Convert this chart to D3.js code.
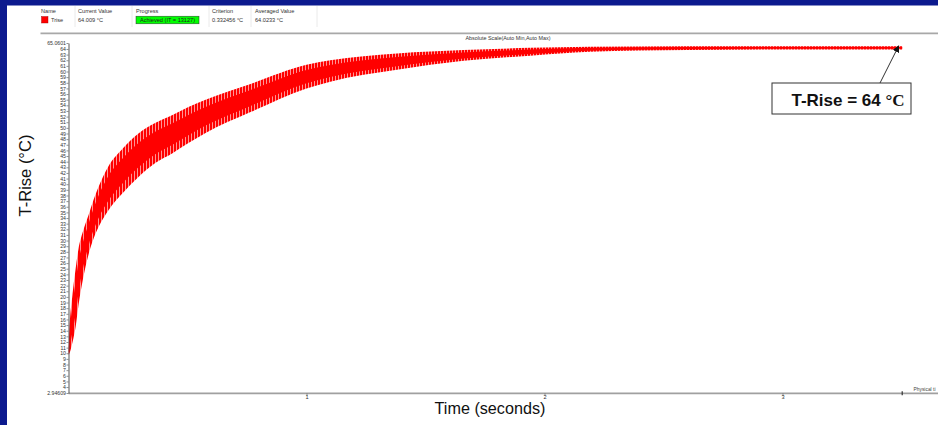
<!DOCTYPE html>
<html><head><meta charset="utf-8">
<script src="https://cdn.jsdelivr.net/npm/d3@7"></script>
<style>
html,body{margin:0;padding:0;background:#fff;overflow:hidden;}
svg{display:block;font-family:Arial,"Liberation Sans",sans-serif;}
</style></head><body>
<svg id="chart" width="938" height="425"></svg>
<script>
// ---- data ----
const timeSec = [0, 0.004, 0.017, 0.03, 0.042, 0.06, 0.084, 0.105, 0.126, 0.168, 0.227, 0.294, 0.366, 0.437, 0.504, 0.576, 0.765, 1.0, 1.1, 1.38, 1.66, 1.94, 2.19, 2.6, 3.0, 3.503];
const upperTrise = [10, 14, 20.5, 25, 28.5, 31.5, 34.5, 37.2, 39.5, 43.2, 46.3, 49.0, 50.9, 52.3, 53.7, 55, 57.8, 61.2, 62.0, 63.2, 63.8, 64.2, 64.4, 64.5, 64.5, 64.5];
const lowerTrise = [9.7, 10, 12, 14.7, 18.5, 23, 27.5, 30.3, 32.4, 35.4, 38.4, 41.3, 43.8, 45.5, 47.3, 49.1, 52.8, 57.0, 58.2, 60.3, 61.9, 62.8, 63.5, 63.8, 63.9, 63.9];
const yMin = 2.94609, yMax = 65.0601;
const yTickValues = [4,5,6,7,8,9,10,11,12,13,14,15,16,17,18,19,20,21,22,23,24,25,26,27,28,29,30,31,32,33,34,35,36,37,38,39,40,41,42,43,44,45,46,47,48,49,50,51,52,53,54,55,56,57,58,59,60,61,62,63,64];
const xTickValues = [1, 2, 3];
const xEnd = 3.503;
const headerLabels = ["Name", "Current Value", "Progress", "Criterion", "Averaged Value"];
const headerValues = ["Trise", "64.009 °C", "Achieved (IT = 13127)", "0.332456 °C", "64.0233 °C"];
const plotTitle = "Absolute Scale(Auto Min,Auto Max)";
const xEndLabel = "Physical ti";
const annotationText = "T-Rise = 64 ";
const annotationUnit = "°C";
const annotationValue = 64;

const svg = d3.select("#chart");

// background border
svg.append("rect").attr("x",0).attr("y",0).attr("width",938).attr("height",425).attr("fill","#fff");
svg.append("rect").attr("x",0).attr("y",0).attr("width",938).attr("height",5.5).attr("fill","#0c1a8e");
svg.append("rect").attr("x",0).attr("y",0).attr("width",7).attr("height",425).attr("fill","#0c1a8e");

// header table
const colX = [41, 78, 136, 212, 255];
const sepX = [75, 132, 209, 251, 317];
sepX.forEach(x => svg.append("line").attr("x1",x).attr("x2",x).attr("y1",6).attr("y2",27).attr("stroke","#e4e4e4").attr("stroke-width",0.8));
headerLabels.forEach((t,i) => svg.append("text").attr("x",colX[i]).attr("y",12.5).attr("font-size",5.6).attr("fill","#333").text(t));
svg.append("rect").attr("x",41.5).attr("y",16.5).attr("width",6.5).attr("height",6.5).attr("fill","#ff0000").attr("stroke","#900").attr("stroke-width",0.4);
svg.append("text").attr("x",51).attr("y",22).attr("font-size",5.6).attr("fill","#333").text(headerValues[0]);
svg.append("text").attr("x",colX[1]).attr("y",22).attr("font-size",5.6).attr("fill","#333").text(headerValues[1]);
svg.append("rect").attr("x",136).attr("y",16.2).attr("width",63).attr("height",7.6).attr("fill","#00ff00").attr("stroke","#333").attr("stroke-width",0.5);
svg.append("text").attr("x",167.5).attr("y",22).attr("text-anchor","middle").attr("font-size",5.6).attr("fill","#222").text(headerValues[2]);
svg.append("text").attr("x",colX[3]).attr("y",22).attr("font-size",5.6).attr("fill","#333").text(headerValues[3]);
svg.append("text").attr("x",colX[4]).attr("y",22).attr("font-size",5.6).attr("fill","#333").text(headerValues[4]);
svg.append("line").attr("x1",40.5).attr("x2",938).attr("y1",33.3).attr("y2",33.3).attr("stroke","#a8a8a8").attr("stroke-width",1.8);

svg.append("text").attr("x",508).attr("y",40).attr("text-anchor","middle").attr("font-size",5.4).attr("fill","#333").text(plotTitle);

// scales
const x = d3.scaleLinear().domain([0, 1]).range([68.5, 306.5]);
const y = d3.scaleLinear().domain([yMin, yMax]).range([393, 43]);

// band pattern
const defs = svg.append("defs");
const pat = defs.append("pattern").attr("id","hatch").attr("patternUnits","userSpaceOnUse").attr("width",3).attr("height",10);
pat.append("rect").attr("x",0).attr("y",0).attr("width",2.1).attr("height",10).attr("fill","#ff0000");
pat.append("rect").attr("x",2.1).attr("y",0).attr("width",0.9).attr("height",10).attr("fill","#ff8a8a");

const band = timeSec.map((t,i) => ({t, lo: lowerTrise[i], hi: upperTrise[i]}));
const area = d3.area().x(d => x(d.t)).y0(d => y(d.lo)).y1(d => y(d.hi)).curve(d3.curveMonotoneX);
svg.append("path").datum(band).attr("d", area).attr("fill","url(#hatch)");
const inner = d3.area().x(d => x(d.t))
  .y0(d => y(d.lo + 0.22*(d.hi-d.lo)))
  .y1(d => y(d.hi - 0.22*(d.hi-d.lo))).curve(d3.curveMonotoneX);
svg.append("path").datum(band).attr("d", inner).attr("fill","#ff0000");

// x axis
svg.append("line").attr("x1",68.5).attr("x2",938).attr("y1",393.3).attr("y2",393.3).attr("stroke","#a0a0a0").attr("stroke-width",1.8);
const xAxis = d3.axisBottom(x).tickValues(xTickValues).tickSize(2.5).tickSizeOuter(0).tickFormat(d3.format("d"));
const gx = svg.append("g").attr("transform","translate(0,393.5)").call(xAxis);
gx.select(".domain").remove();
gx.selectAll("line").attr("stroke","#555").attr("stroke-width",0.6);
gx.selectAll("text").attr("font-size",5.6).attr("fill","#333").attr("font-family","Arial").attr("dy","0.55em").attr("y",2);
svg.append("line").attr("x1",x(xEnd)).attr("x2",x(xEnd)).attr("y1",391.3).attr("y2",395.3).attr("stroke","#333").attr("stroke-width",1.2);
svg.append("text").attr("x",913.5).attr("y",390.5).attr("font-size",4.9).attr("fill","#444").text(xEndLabel);

// y axis
const yAxis = d3.axisLeft(y).tickValues([yMin].concat(yTickValues, [yMax])).tickSize(2).tickSizeOuter(0)
  .tickFormat(d => d === yMin ? "2.94609" : d === yMax ? "65.0601" : String(d));
const gy = svg.append("g").attr("transform","translate(68.5,0)").call(yAxis);
gy.select(".domain").attr("stroke","#444").attr("stroke-width",0.9);
gy.selectAll("line").attr("stroke","#444").attr("stroke-width",0.6);
gy.selectAll("text").attr("font-size",5.2).attr("fill","#333").attr("font-family","Arial").attr("x",-2.5);

// axis titles
svg.append("text").attr("x",490).attr("y",413.5).attr("text-anchor","middle").attr("font-size",16.2).attr("fill","#111").text("Time (seconds)");
svg.append("text").attr("transform","translate(31,175.5) rotate(-90)").attr("text-anchor","middle").attr("font-size",16.5).attr("fill","#111").text("T-Rise (°C)");

// annotation
const tipX = x(xEnd) - 3.5, tipY = y(annotationValue + 0.55);
svg.append("rect").attr("x",772).attr("y",83).attr("width",139).attr("height",31).attr("fill","#fff").attr("stroke","#333").attr("stroke-width",1);
const at = svg.append("text").attr("x",848).attr("y",105.5).attr("text-anchor","middle").attr("font-size",17).attr("font-weight","bold").attr("fill","#111");
at.append("tspan").text(annotationText);
at.append("tspan").attr("font-family","'Liberation Serif','DejaVu Serif',serif").attr("font-weight","bold").text(annotationUnit);
defs.append("marker").attr("id","ah").attr("viewBox","0 0 10 10").attr("refX",9).attr("refY",5)
  .attr("markerWidth",7).attr("markerHeight",7).attr("markerUnits","userSpaceOnUse").attr("orient","auto")
  .append("path").attr("d","M0,0 L10,5 L0,10 z").attr("fill","#111");
svg.append("line").attr("x1",880).attr("y1",83).attr("x2",tipX).attr("y2",tipY).attr("stroke","#333").attr("stroke-width",1).attr("marker-end","url(#ah)");
</script>
</body></html>
